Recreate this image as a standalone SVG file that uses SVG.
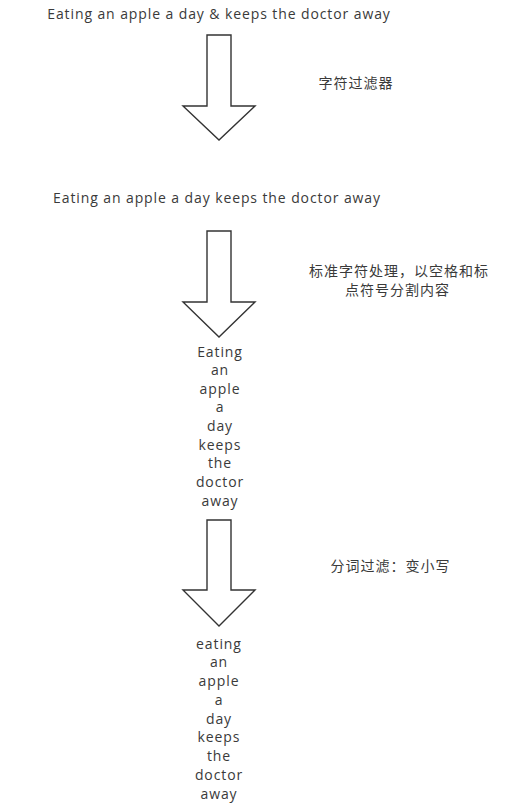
<svg xmlns="http://www.w3.org/2000/svg" width="519" height="805" viewBox="0 0 519 805">
<style>
.t{font-family:"Open Sans","Noto Sans","Noto Sans CJK SC",sans-serif;font-size:14px;letter-spacing:0.9px;fill:#3a3a3a;text-anchor:middle;dominant-baseline:central}
.c{font-family:"Noto Sans CJK SC",sans-serif;font-size:14px;letter-spacing:1px;fill:#3a3a3a;text-anchor:middle;dominant-baseline:central}
.a{fill:#fff;stroke:#333;stroke-width:1.4;stroke-linejoin:miter}
</style>
<rect width="519" height="805" fill="#fff"/>
<g id="text1"><text class="t" x="219" y="13">Eating an apple a day &amp; keeps the doctor away</text></g>
<g id="label1"><text class="c" x="356" y="82">字符过滤器</text></g>
<g id="text2"><text class="t" x="217" y="197">Eating an apple a day keeps the doctor away</text></g>
<g id="label2"><text class="c" x="399" y="270">标准字符处理，以空格和标</text><text class="c" x="397.5" y="289">点符号分割内容</text></g>
<g id="words1">
<text class="t" x="220" y="351">Eating</text>
<text class="t" x="220" y="369.6">an</text>
<text class="t" x="220" y="388.2">apple</text>
<text class="t" x="220" y="406.8">a</text>
<text class="t" x="220" y="425.4">day</text>
<text class="t" x="220" y="444">keeps</text>
<text class="t" x="220" y="462.6">the</text>
<text class="t" x="220" y="481.2">doctor</text>
<text class="t" x="220" y="500">away</text>
</g>
<g id="label3"><text class="c" x="390.5" y="565">分词过滤：变小写</text></g>
<g id="words2">
<text class="t" x="219" y="643">eating</text>
<text class="t" x="219" y="661.75">an</text>
<text class="t" x="219" y="680.5">apple</text>
<text class="t" x="219" y="699.25">a</text>
<text class="t" x="219" y="718">day</text>
<text class="t" x="219" y="736.75">keeps</text>
<text class="t" x="219" y="755.5">the</text>
<text class="t" x="219" y="774.25">doctor</text>
<text class="t" x="219" y="793">away</text>
</g>
<g id="connectors">
<path class="a" d="M207,35 H231 V106 H255 L219,140 L183,106 H207 Z"/>
<path class="a" d="M207,231 H231 V302 H255 L219,337 L183,302 H207 Z"/>
<path class="a" d="M207,520 H231 V590 H255 L219,626 L183,590 H207 Z"/>
</g>
</svg>
